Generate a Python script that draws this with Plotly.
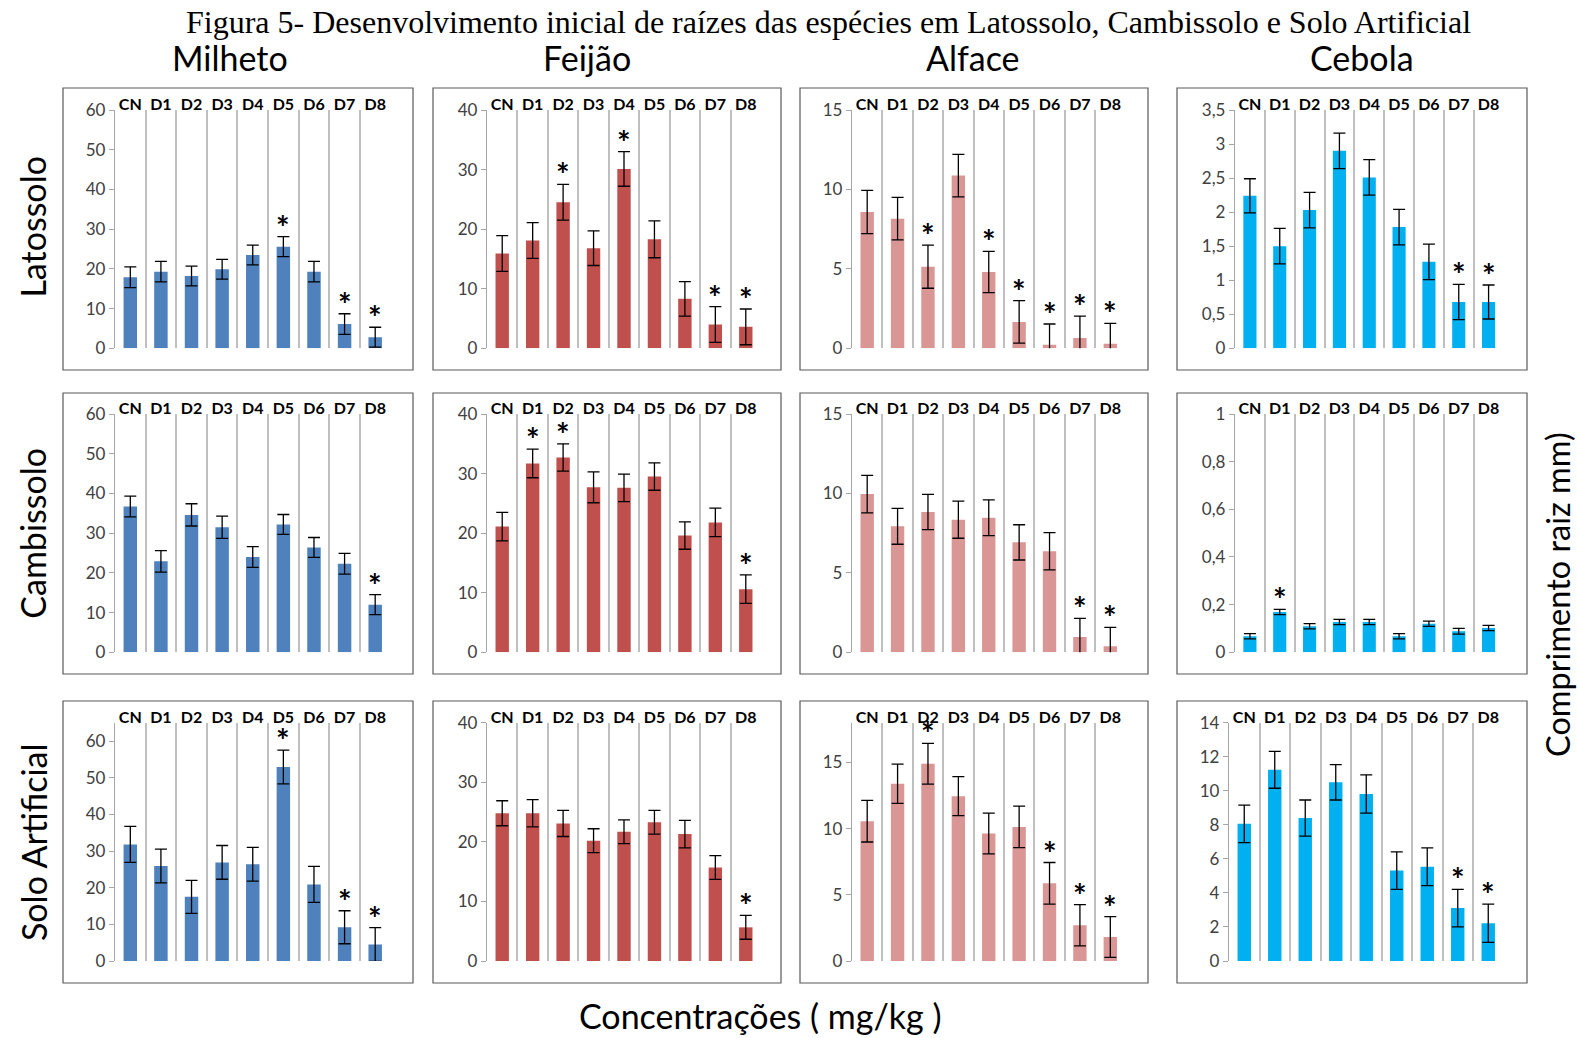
import plotly.graph_objects as go

W, H = 1579, 1038          # target picture size

categories = ["CN", "D1", "D2", "D3", "D4", "D5", "D6", "D7", "D8"]

species = ["Milheto", "Feijão", "Alface", "Cebola"]
soils = ["Latossolo", "Cambissolo", "Solo Artificial"]

# ---- Milheto ----
milheto_lat = [17.9, 19.3, 18.2, 19.9, 23.5, 25.6, 19.3, 6.1, 2.8]
milheto_lat_err = [2.6, 2.6, 2.5, 2.5, 2.5, 2.5, 2.6, 2.6, 2.5]
milheto_lat_sig = [0, 0, 0, 0, 0, 1, 0, 1, 1]

milheto_cam = [36.7, 22.9, 34.6, 31.5, 24.0, 32.2, 26.4, 22.3, 12.0]
milheto_cam_err = [2.6, 2.7, 2.8, 2.8, 2.6, 2.5, 2.5, 2.6, 2.5]
milheto_cam_sig = [0, 0, 0, 0, 0, 0, 0, 0, 1]

milheto_art = [31.8, 25.9, 17.5, 26.9, 26.4, 52.9, 20.9, 9.2, 4.5]
milheto_art_err = [4.9, 4.6, 4.5, 4.6, 4.6, 4.6, 4.9, 4.5, 4.6]
milheto_art_sig = [0, 0, 0, 0, 0, 1, 0, 1, 1]

# ---- Feijão ----
feijao_lat = [15.9, 18.1, 24.5, 16.8, 30.1, 18.3, 8.3, 4.0, 3.6]
feijao_lat_err = [3.0, 3.0, 3.0, 2.9, 2.9, 3.1, 2.9, 3.0, 3.0]
feijao_lat_sig = [0, 0, 1, 0, 1, 0, 0, 1, 1]

feijao_cam = [21.1, 31.7, 32.7, 27.7, 27.6, 29.5, 19.6, 21.8, 10.6]
feijao_cam_err = [2.4, 2.4, 2.3, 2.6, 2.3, 2.3, 2.3, 2.4, 2.4]
feijao_cam_sig = [0, 1, 1, 0, 0, 0, 0, 0, 1]

feijao_art = [24.8, 24.8, 23.1, 20.2, 21.7, 23.3, 21.3, 15.7, 5.65]
feijao_art_err = [2.1, 2.3, 2.2, 2.0, 2.0, 2.0, 2.3, 2.0, 2.0]
feijao_art_sig = [0, 0, 0, 0, 0, 0, 0, 0, 1]

# ---- Alface ----
alface_lat = [8.58, 8.16, 5.14, 10.87, 4.80, 1.66, 0.23, 0.65, 0.29]
alface_lat_err = [1.36, 1.34, 1.36, 1.34, 1.30, 1.34, 1.30, 1.38, 1.28]
alface_lat_sig = [0, 0, 1, 0, 1, 1, 1, 1, 1]

alface_cam = [9.96, 7.93, 8.83, 8.35, 8.47, 6.92, 6.36, 0.96, 0.38]
alface_cam_err = [1.18, 1.13, 1.11, 1.17, 1.12, 1.11, 1.17, 1.18, 1.19]
alface_cam_sig = [0, 0, 0, 0, 0, 0, 0, 1, 1]

alface_art = [10.56, 13.39, 14.90, 12.45, 9.63, 10.13, 5.87, 2.70, 1.81]
alface_art_err = [1.57, 1.48, 1.54, 1.47, 1.54, 1.57, 1.57, 1.56, 1.54]
alface_art_sig = [0, 0, 1, 0, 0, 0, 1, 1, 1]

# ---- Cebola ----
cebola_lat = [2.24, 1.50, 2.03, 2.90, 2.51, 1.78, 1.27, 0.68, 0.68]
cebola_lat_err = [0.25, 0.26, 0.26, 0.26, 0.26, 0.26, 0.26, 0.26, 0.25]
cebola_lat_sig = [0, 0, 0, 0, 0, 0, 0, 1, 1]

cebola_cam = [0.067, 0.169, 0.109, 0.127, 0.127, 0.067, 0.120, 0.088, 0.102]
cebola_cam_err = [0.011, 0.011, 0.011, 0.011, 0.011, 0.011, 0.011, 0.012, 0.011]
cebola_cam_sig = [0, 1, 0, 0, 0, 0, 0, 0, 0]

cebola_art = [8.06, 11.23, 8.40, 10.50, 9.81, 5.31, 5.54, 3.11, 2.22]
cebola_art_err = [1.10, 1.08, 1.06, 1.04, 1.12, 1.10, 1.11, 1.10, 1.12]
cebola_art_sig = [0, 0, 0, 0, 0, 0, 0, 1, 1]

# axis maxima / tick steps per panel [row][col]
y_max = [[60, 40, 15, 3.5], [60, 40, 15, 1], [65, 40, 18, 14]]
y_step = [[10, 10, 5, 0.5], [10, 10, 5, 0.2], [10, 10, 5, 2]]

values = [
    [(milheto_lat, milheto_lat_err, milheto_lat_sig), (feijao_lat, feijao_lat_err, feijao_lat_sig),
     (alface_lat, alface_lat_err, alface_lat_sig), (cebola_lat, cebola_lat_err, cebola_lat_sig)],
    [(milheto_cam, milheto_cam_err, milheto_cam_sig), (feijao_cam, feijao_cam_err, feijao_cam_sig),
     (alface_cam, alface_cam_err, alface_cam_sig), (cebola_cam, cebola_cam_err, cebola_cam_sig)],
    [(milheto_art, milheto_art_err, milheto_art_sig), (feijao_art, feijao_art_err, feijao_art_sig),
     (alface_art, alface_art_err, alface_art_sig), (cebola_art, cebola_art_err, cebola_art_sig)],
]

colors = ["#4F81BD", "#C0504D", "#D99694", "#00B0F0"]

# layout geometry in picture pixels
col_px = [(115, 390.5), (487, 761), (852, 1125.5), (1235, 1503.5)]
row_px = [(110, 348.3), (414, 652.3), (722.7, 961)]
box_x = [(63, 413), (433, 781), (800, 1148), (1177, 1527)]
box_y = [(88, 370), (393, 674), (701, 983)]

FONT = "Lato, 'Open Sans', sans-serif"

fig = go.Figure()
shapes = []
annotations = []


def fx(px):
    return px / W


def fy(py):
    return 1 - py / H


k = 0
for r in range(3):
    for c in range(4):
        k += 1
        xa = "x" if k == 1 else f"x{k}"
        ya = "y" if k == 1 else f"y{k}"
        vals, errs, sig = values[r][c]
        fig.add_trace(go.Bar(
            x=categories, y=vals, xaxis=xa, yaxis=ya,
            marker=dict(color=colors[c], line=dict(width=0)),
            width=0.44,
            error_y=dict(type="data", array=errs, color="black", thickness=1.3, width=6),
            showlegend=False, hoverinfo="skip",
        ))
        x0, x1 = col_px[c]
        if r == 2 and c == 3:
            x0 = 1229
        y0, y1 = row_px[r]
        xkey = "xaxis" if k == 1 else f"xaxis{k}"
        ykey = "yaxis" if k == 1 else f"yaxis{k}"
        fig.layout[xkey] = dict(
            domain=[fx(x0), fx(x1)], anchor=ya, type="category",
            categoryorder="array", categoryarray=categories,
            range=[-0.5, 8.5], side="top", tickson="boundaries",
            showgrid=True, gridcolor="#BFBFBF", gridwidth=1.5,
            ticks="", showline=False, zeroline=False, tickangle=0,
            automargin=False,
            tickfont=dict(family=FONT, size=16, color="black", weight="bold"),
            ticklabelstandoff=-4, fixedrange=True,
        )
        fig.layout[ykey] = dict(
            domain=[fy(y1), fy(y0)], anchor=xa,
            range=[0, y_max[r][c]], dtick=y_step[r][c], tick0=0,
            showgrid=False, zeroline=False, showline=True,
            linecolor="#A6A6A6", linewidth=1.3, automargin=False,
            ticks="outside", ticklen=5, tickcolor="#A6A6A6",
            tickfont=dict(family=FONT, size=17, color="#404040"),
            fixedrange=True,
        )
        for i, s in enumerate(sig):
            if s:
                annotations.append(dict(
                    x=categories[i], y=vals[i] + errs[i], xref=xa, yref=ya,
                    text="*", showarrow=False, yanchor="bottom", yshift=-12,
                    font=dict(family=FONT, size=32, color="black", weight="bold"),
                ))
        bx0, bx1 = box_x[c]
        by0, by1 = box_y[r]
        shapes.append(dict(type="rect", xref="paper", yref="paper",
                           x0=fx(bx0), x1=fx(bx1), y0=fy(by1), y1=fy(by0),
                           line=dict(color="#595959", width=1.2), layer="below"))

# column titles
col_title_x = [229.6, 587, 972.8, 1361.5]
for c, name in enumerate(species):
    annotations.append(dict(x=fx(col_title_x[c]), y=fy(58), xref="paper", yref="paper",
                            text=name, showarrow=False, xanchor="center", yanchor="middle",
                            font=dict(family=FONT, size=34, color="black")))

# row titles
row_title_y = [226.6, 533.7, 842]
for r, name in enumerate(soils):
    annotations.append(dict(x=fx(33), y=fy(row_title_y[r]), xref="paper", yref="paper",
                            text=name, showarrow=False, textangle=-90,
                            xanchor="center", yanchor="middle",
                            font=dict(family=FONT, size=34, color="black")))

annotations.append(dict(x=fx(1557), y=fy(595), xref="paper", yref="paper",
                        text="Comprimento raiz mm)", showarrow=False, textangle=-90,
                        xanchor="center", yanchor="middle",
                        font=dict(family=FONT, size=32.5, color="black")))
annotations.append(dict(x=fx(760), y=fy(1015), xref="paper", yref="paper",
                        text="Concentrações ( mg/kg )", showarrow=False,
                        xanchor="center", yanchor="middle",
                        font=dict(family=FONT, size=34, color="black")))
annotations.append(dict(x=fx(828), y=fy(22), xref="paper", yref="paper",
                        text="Figura 5- Desenvolvimento inicial de raízes das espécies em Latossolo, Cambissolo e Solo Artificial",
                        showarrow=False, xanchor="center", yanchor="middle",
                        font=dict(family="'Liberation Serif', 'DejaVu Serif', serif", size=32, color="black")))

fig.update_layout(
    template="none",
    width=W, height=H,
    margin=dict(l=0, r=0, t=0, b=0, pad=0, autoexpand=False),
    paper_bgcolor="white", plot_bgcolor="white",
    separators=", ",
    shapes=shapes, annotations=annotations,
    showlegend=False,
)

fig.write_html(
    "out.html",
    config={"displayModeBar": False},
    post_script="document.body.style.margin='0';document.body.style.overflow='hidden';",
)
